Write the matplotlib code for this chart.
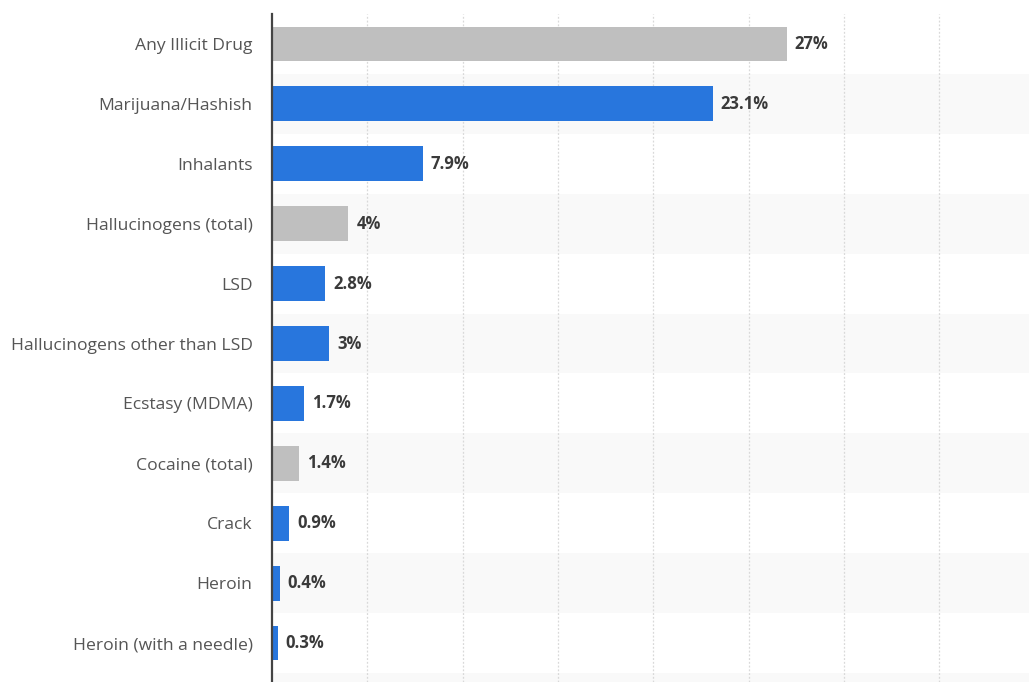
import matplotlib
matplotlib.use("Agg")
import matplotlib.pyplot as plt

categories = [
    "Any Illicit Drug",
    "Marijuana/Hashish",
    "Inhalants",
    "Hallucinogens (total)",
    "LSD",
    "Hallucinogens other than LSD",
    "Ecstasy (MDMA)",
    "Cocaine (total)",
    "Crack",
    "Heroin",
    "Heroin (with a needle)",
]
values = [27, 23.1, 7.9, 4, 2.8, 3, 1.7, 1.4, 0.9, 0.4, 0.3]
value_labels = ["27%", "23.1%", "7.9%", "4%", "2.8%", "3%", "1.7%", "1.4%", "0.9%", "0.4%", "0.3%"]
is_total = [True, False, False, True, False, False, False, True, False, False, False]

BLUE = "#2876dd"
GREY = "#bfbfbf"

plt.rcParams["font.family"] = ["Open Sans", "DejaVu Sans"]

W, H = 1029, 682
fig = plt.figure(figsize=(W / 100, H / 100), dpi=100)
left_px, top_px = 272, 14
ax = fig.add_axes([left_px / W, 0, (W - left_px) / W, (H - top_px) / H])

n = len(categories)
ypos = list(range(n))

# alternating row bands
for i in range(1, n + 1, 2):
    ax.axhspan(i - 0.5, i + 0.5, color="#f9f9f9", zorder=0, lw=0)

ax.set_xlim(0, (W - left_px) / 19.07)
ax.set_ylim(n - 0.35, -0.5)

for x in range(5, 40, 5):
    ax.axvline(x, color="#d9d9d9", lw=0.9, ls=(0, (1.5, 1.5)), zorder=1)

colors = [GREY if t else BLUE for t in is_total]
ax.barh(ypos, values, height=0.58, color=colors, zorder=2)

for y, v, lab in zip(ypos, values, value_labels):
    ax.text(v + 0.42, y, lab, va="center", ha="left", fontsize=12,
            fontweight="bold", color="#3a3a3a", zorder=3)

ax.set_yticks(ypos)
ax.set_yticklabels(categories, fontsize=12.6, color="#555555")
ax.tick_params(axis="y", length=0, pad=14)
ax.set_xticks([])

for s in ["top", "right", "bottom"]:
    ax.spines[s].set_visible(False)
ax.spines["left"].set_color("#444444")
ax.spines["left"].set_linewidth(1.6)
ax.spines["left"].set_zorder(4)

fig.savefig("out.png", dpi=100)
